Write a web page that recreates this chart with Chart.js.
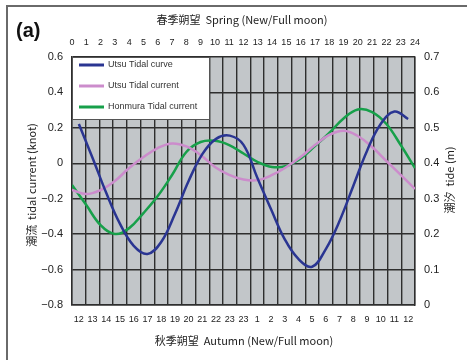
<!DOCTYPE html>
<html><head><meta charset="utf-8">
<script src="https://cdn.jsdelivr.net/npm/chart.js@4.4.1/dist/chart.umd.min.js"></script>
<style>html,body{margin:0;padding:0;background:#fff}canvas{display:block}</style>
</head><body><canvas id="c" width="467" height="360"></canvas>
<script>
// Spring hours along the top, autumn clock hours along the bottom
const springHours = [0,1,2,3,4,5,6,7,8,9,10,11,12,13,14,15,16,17,18,19,20,21,22,23,24];
const autumnLabels = ['12','13','14','15','16','17','18','19','20','21','22','23','23','1','2','3','4','5','6','7','8','9','10','11','12'];

// Utsu tide level (m), one value per autumn hour column
const utsuTide = [0.511,0.415,0.316,0.229,0.167,0.144,0.178,0.257,0.350,0.426,0.469,0.478,0.452,0.360,0.271,0.186,0.130,0.108,0.158,0.237,0.336,0.435,0.511,0.546,0.525];
// Tidal currents (knot), one value per spring hour
const utsuCurrent = [-0.151,-0.174,-0.151,-0.100,-0.027,0.035,0.086,0.112,0.095,0.047,-0.021,-0.066,-0.092,-0.095,-0.066,-0.021,0.035,0.103,0.160,0.184,0.154,0.092,0.013,-0.066,-0.145];
const honmuraCurrent = [-0.123,-0.236,-0.349,-0.399,-0.366,-0.281,-0.185,-0.066,0.064,0.120,0.127,0.103,0.055,0.007,-0.021,-0.015,0.027,0.097,0.171,0.253,0.304,0.289,0.222,0.103,-0.027];

const seriesNames = ['Utsu Tidal curve','Utsu Tidal current','Honmura Tidal current'];
const seriesColors = ['#2a3592','#cc8ccc','#17a04a'];

const FONT = "'Liberation Sans', 'Noto Sans CJK JP', sans-serif";
const CJK = "'Noto Sans CJK JP', 'Liberation Sans', sans-serif";
const GRID = '#2e2e2e';

function fmt(v) {
  const r = Math.round(v * 10) / 10;
  if (r === 0) return '0';
  return (r < 0 ? '\u2212' : '') + Math.abs(r).toFixed(1);
}

const decor = {
  id: 'decor',
  beforeDraw(chart) {
    const { ctx, chartArea: a } = chart;
    ctx.save();
    ctx.fillStyle = '#fff';
    ctx.fillRect(0, 0, chart.width, chart.height);
    ctx.strokeStyle = '#6a6a6a';
    ctx.lineWidth = 2;
    ctx.beginPath();
    ctx.moveTo(7, chart.height);
    ctx.lineTo(7, 6);
    ctx.lineTo(chart.width, 6);
    ctx.stroke();
    ctx.fillStyle = '#c2c6c9';
    ctx.fillRect(a.left, a.top, a.right - a.left, a.bottom - a.top);
    ctx.restore();
  },
  afterDraw(chart) {
    const { ctx, chartArea: a } = chart;
    ctx.save();
    // legend panel
    const lx = a.left, ly = a.top, lw = 137, lh = 62;
    ctx.fillStyle = '#fff';
    ctx.fillRect(lx, ly, lw, lh);
    ctx.strokeStyle = '#555';
    ctx.lineWidth = 1;
    ctx.strokeRect(lx + 0.5, ly + 0.5, lw, lh);
    ctx.font = '9px ' + FONT;
    ctx.textBaseline = 'middle';
    ctx.textAlign = 'left';
    seriesNames.forEach((name, i) => {
      const y = ly + 8 + i * 21;
      ctx.strokeStyle = seriesColors[i];
      ctx.lineWidth = 3;
      ctx.beginPath();
      ctx.moveTo(lx + 7, y);
      ctx.lineTo(lx + 32, y);
      ctx.stroke();
      ctx.fillStyle = '#333';
      ctx.fillText(name, lx + 36, y);
    });

    // panel letter
    ctx.fillStyle = '#111';
    ctx.font = 'bold 20px ' + FONT;
    ctx.textAlign = 'left';
    ctx.fillText('(a)', 16, 31);

    // axis titles
    ctx.fillStyle = '#222';
    ctx.font = '11px ' + CJK;
    ctx.textAlign = 'center';
    ctx.fillText('春季朔望  Spring (New/Full moon)', 242, 20);
    ctx.fillText('秋季朔望  Autumn (New/Full moon)', 244, 341);

    ctx.save();
    ctx.translate(32, 185);
    ctx.rotate(-Math.PI / 2);
    ctx.fillText('潮流  tidal current (knot)', 0, 0);
    ctx.restore();

    ctx.save();
    ctx.translate(450, 180);
    ctx.rotate(-Math.PI / 2);
    ctx.fillText('潮汐  tide (m)', 0, 0);
    ctx.restore();
    ctx.restore();
  }
};

new Chart(document.getElementById('c'), {
  type: 'line',
  data: {
    labels: autumnLabels,
    datasets: [
      {
        label: seriesNames[0],
        data: utsuTide,
        xAxisID: 'x', yAxisID: 'yTide',
        borderColor: seriesColors[0], borderWidth: 2.5,
        pointRadius: 0, tension: 0.4, fill: false
      },
      {
        label: seriesNames[1],
        data: springHours.map((h, i) => ({ x: h, y: utsuCurrent[i] })),
        xAxisID: 'xTop', yAxisID: 'y',
        borderColor: seriesColors[1], borderWidth: 2.5,
        pointRadius: 0, tension: 0.4, fill: false
      },
      {
        label: seriesNames[2],
        data: springHours.map((h, i) => ({ x: h, y: honmuraCurrent[i] })),
        xAxisID: 'xTop', yAxisID: 'y',
        borderColor: seriesColors[2], borderWidth: 2.5,
        pointRadius: 0, tension: 0.4, fill: false
      }
    ]
  },
  options: {
    responsive: false,
    animation: false,
    devicePixelRatio: 1,
    layout: { padding: 0 },
    plugins: { legend: { display: false }, tooltip: { enabled: false } },
    scales: {
      x: {
        type: 'category',
        position: 'bottom',
        offset: true,
        afterFit(s) { s.height = 55; },
        grid: { offset: true, color: GRID, lineWidth: 1.4, drawTicks: false },
        border: { color: GRID, width: 1.4 },
        ticks: { autoSkip: false, maxRotation: 0, padding: 9, color: '#222', font: { size: 9, family: FONT } }
      },
      xTop: {
        type: 'linear',
        position: 'top',
        min: 0, max: 24,
        afterFit(s) { s.height = 57; },
        grid: { display: false, drawTicks: false },
        border: { display: false },
        ticks: { stepSize: 1, autoSkip: false, maxRotation: 0, padding: 9, color: '#222', font: { size: 9, family: FONT } }
      },
      y: {
        type: 'linear',
        position: 'left',
        min: -0.8, max: 0.6,
        afterFit(s) { s.width = 72; },
        grid: { color: GRID, lineWidth: 1.4, drawTicks: false },
        border: { color: GRID, width: 1.4 },
        ticks: { stepSize: 0.2, padding: 9, color: '#222', font: { size: 11, family: FONT }, callback: v => fmt(v) }
      },
      yTide: {
        type: 'linear',
        position: 'right',
        min: 0, max: 0.7,
        afterFit(s) { s.width = 52; },
        grid: { display: false, drawTicks: false },
        border: { color: GRID, width: 1.4 },
        ticks: { stepSize: 0.1, padding: 9, color: '#222', font: { size: 11, family: FONT }, callback: v => fmt(v) }
      }
    }
  },
  plugins: [decor]
});
</script>
</body></html>
